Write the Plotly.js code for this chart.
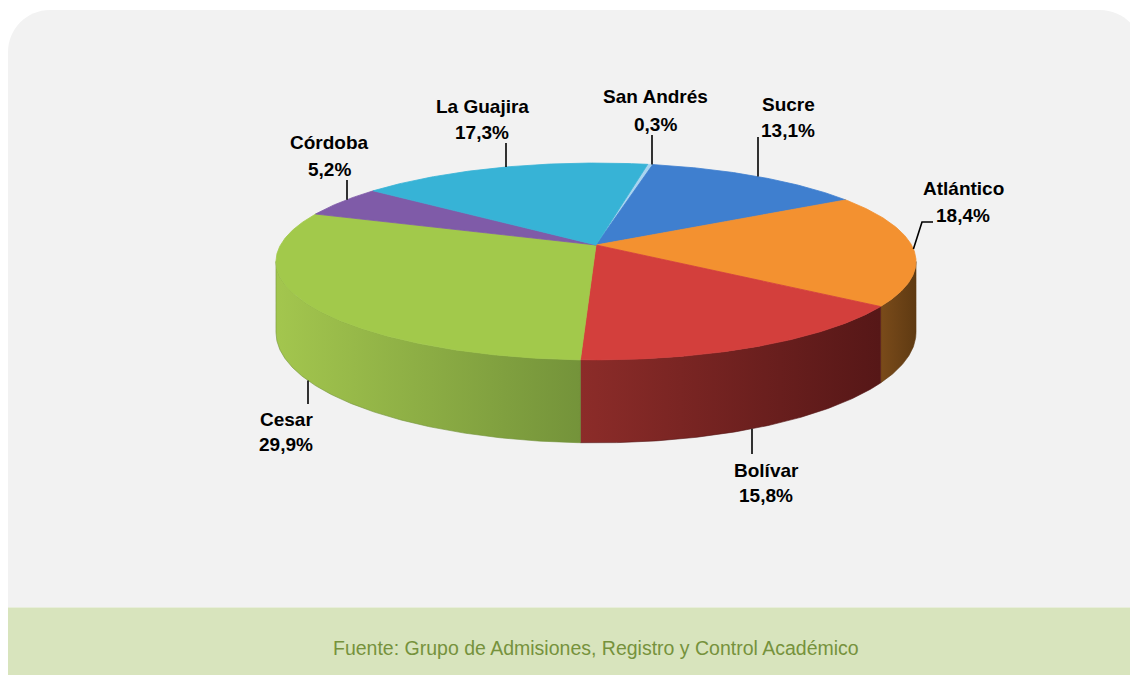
<!DOCTYPE html>
<html>
<head>
<meta charset="utf-8">
<script src="https://cdn.plot.ly/plotly-3.0.1.min.js"></script>
<style>
html,body{margin:0;padding:0;background:#ffffff;}
#chart{width:1130px;height:675px;}
</style>
</head>
<body>
<div id="chart"></div>
<script>
// ---- data ----
const categories = ['San Andrés', 'Sucre', 'Atlántico', 'Bolívar', 'Cesar', 'Córdoba', 'La Guajira'];
const values = [0.3, 13.1, 18.4, 15.8, 29.9, 5.2, 17.3];
const valueLabels = ['0,3%', '13,1%', '18,4%', '15,8%', '29,9%', '5,2%', '17,3%'];
const sourceText = 'Fuente: Grupo de Admisiones, Registro y Control Académico';

// ---- styles ----
const topColors = ['#a9d4f0', '#3f7fcf', '#f39130', '#d33f3c', '#a2c94b', '#7f5ba8', '#37b3d6'];
const wallColors = [
  ['#7fb0d0', '#5f90b0'],
  ['#2c5a94', '#23497a'],
  ['#7a4b1a', '#5f3a12'],
  ['#8c2c29', '#561717'],
  ['#a3c64e', '#74933a'],
  ['#5b4078', '#4a3363'],
  ['#26809a', '#1e6a80']
];

// label layout (text positions in page pixels); lx = x of a vertical leader line
const labelLayout = {
  'San Andrés': {lx: 652, endY: 135, tx: 655, ny: 96, vy: 124},
  'Sucre':      {lx: 758, endY: 137, tx: 788, ny: 104, vy: 130},
  'Atlántico':  {path: [[922, 222], [933, 222]], tx: 963, ny: 188, vy: 215},
  'Bolívar':    {lx: 752, endY: 454, tx: 766, ny: 470, vy: 495},
  'Cesar':      {lx: 308, endY: 404, tx: 286, ny: 419, vy: 444},
  'Córdoba':    {lx: 347, endY: 180, tx: 329, ny: 142, vy: 169},
  'La Guajira': {lx: 506, endY: 143, tx: 482, ny: 106, vy: 132}
};

// ---- geometry of the tilted pie ----
const CX = 596, CY = 245, RX = 315.5, RY = 95.7, K = 0.1675, DEPTH = 69, START = 11;
function proj(deg) {
  const t = deg * Math.PI / 180;
  const u = Math.sin(t), v = Math.cos(t);
  const s = 1 / (1 + K * v);
  return {x: CX + RX * u * s, y: CY - RY * v * s, s: s};
}
function arc(a0, a1) {
  const pts = [];
  const n = Math.max(2, Math.ceil(Math.abs(a1 - a0) / 0.5));
  for (let i = 0; i <= n; i++) pts.push(proj(a0 + (a1 - a0) * i / n));
  return pts;
}

const total = values.reduce((a, b) => a + b, 0);
let cum = 0;
const slices = values.map(v => {
  const a0 = START + 360 * cum / total;
  cum += v;
  const a1 = START + 360 * cum / total;
  return {a0, a1, mid: (a0 + a1) / 2};
});
const SIL1 = Math.acos(-K) * 180 / Math.PI;
const SIL2 = 360 - SIL1;

const traces = [];
// side walls
slices.forEach((s, i) => {
  const b0 = Math.max(s.a0, SIL1), b1 = Math.min(s.a1, SIL2);
  if (b1 <= b0) return;
  const top = arc(b0, b1);
  const bot = arc(b1, b0).map(p => ({x: p.x, y: p.y + DEPTH * p.s}));
  const pts = top.concat(bot);
  pts.push(pts[0]);
  traces.push({
    type: 'scatter', mode: 'lines',
    x: pts.map(p => p.x), y: pts.map(p => p.y),
    fill: 'toself',
    fillgradient: {type: 'horizontal', colorscale: [[0, wallColors[i][0]], [1, wallColors[i][1]]]},
    line: {width: 0.6, color: wallColors[i][1]},
    hoverinfo: 'skip', showlegend: false
  });
});
// top faces
slices.forEach((s, i) => {
  const pts = [{x: CX, y: CY}].concat(arc(s.a0, s.a1));
  pts.push({x: CX, y: CY});
  traces.push({
    type: 'scatter', mode: 'lines',
    x: pts.map(p => p.x), y: pts.map(p => p.y),
    fill: 'toself', fillcolor: topColors[i],
    line: {width: 0.8, color: topColors[i]},
    name: categories[i],
    hoverinfo: 'skip', showlegend: false
  });
});

// leader lines + labels
const annotations = [];
const lblFont = {family: '"Liberation Sans", Arial, sans-serif', size: 19, color: '#000000', weight: 'bold'};
function edgePoint(theta) {
  const p = proj(theta);
  let y = p.y;
  if (theta >= SIL1 && theta <= SIL2) y += DEPTH * p.s;
  return {x: p.x, y: y};
}
slices.forEach((s, i) => {
  const L = labelLayout[categories[i]];
  let xs, ys;
  if (L.lx !== undefined) {
    // angle near the slice middle whose edge point lies at x = lx
    const lo = Math.max(s.a0, s.mid - 20), hi = Math.min(s.a1, s.mid + 20);
    let best = s.mid, bd = 1e9;
    for (let t = lo; t <= hi; t += 0.02) {
      const d = Math.abs(proj(t).x - L.lx);
      if (d < bd) { bd = d; best = t; }
    }
    const e = edgePoint(best);
    xs = [L.lx, L.lx];
    ys = [e.y, L.endY];
  } else {
    const e = edgePoint(s.mid);
    xs = [e.x].concat(L.path.map(q => q[0]));
    ys = [e.y].concat(L.path.map(q => q[1]));
  }
  traces.push({
    type: 'scatter', mode: 'lines', x: xs, y: ys,
    line: {width: 1.6, color: '#000000'}, hoverinfo: 'skip', showlegend: false
  });
  annotations.push({x: L.tx, y: L.ny, xref: 'x', yref: 'y', text: categories[i], showarrow: false,
    xanchor: 'center', yanchor: 'middle', font: lblFont});
  annotations.push({x: L.tx, y: L.vy, xref: 'x', yref: 'y', text: valueLabels[i], showarrow: false,
    xanchor: 'center', yanchor: 'middle', font: lblFont});
});

annotations.push({x: 596, y: 648, xref: 'x', yref: 'y', text: sourceText, showarrow: false,
  xanchor: 'center', yanchor: 'middle',
  font: {family: '"Liberation Sans", Arial, sans-serif', size: 19.5, color: '#76923c'}});

const r = 42, kk = 0.5523 * r;
const panelPath = 'M 8,607.5 L 8,' + (10 + r) +
  ' C 8,' + (10 + r - kk) + ' ' + (8 + r - kk) + ',10 ' + (8 + r) + ',10' +
  ' L 1100,10 C ' + (1100 + kk) + ',10 1142,' + (10 + r - kk) + ' 1142,' + (10 + r) +
  ' L 1142,607.5 Z';

const layout = {
  width: 1130, height: 675,
  margin: {l: 0, r: 0, t: 0, b: 0, pad: 0},
  paper_bgcolor: '#ffffff', plot_bgcolor: '#ffffff',
  xaxis: {range: [0, 1130], visible: false, fixedrange: true},
  yaxis: {range: [675, 0], visible: false, fixedrange: true},
  showlegend: false,
  shapes: [
    {type: 'path', path: panelPath, xref: 'x', yref: 'y', fillcolor: '#f2f2f2', line: {width: 0}, layer: 'below'},
    {type: 'rect', x0: 8, x1: 1140, y0: 607.5, y1: 680, xref: 'x', yref: 'y', fillcolor: '#d8e4bd', line: {width: 0}, layer: 'below'}
  ],
  annotations: annotations
};

Plotly.newPlot('chart', traces, layout, {staticPlot: true, displayModeBar: false});
</script>
</body>
</html>
